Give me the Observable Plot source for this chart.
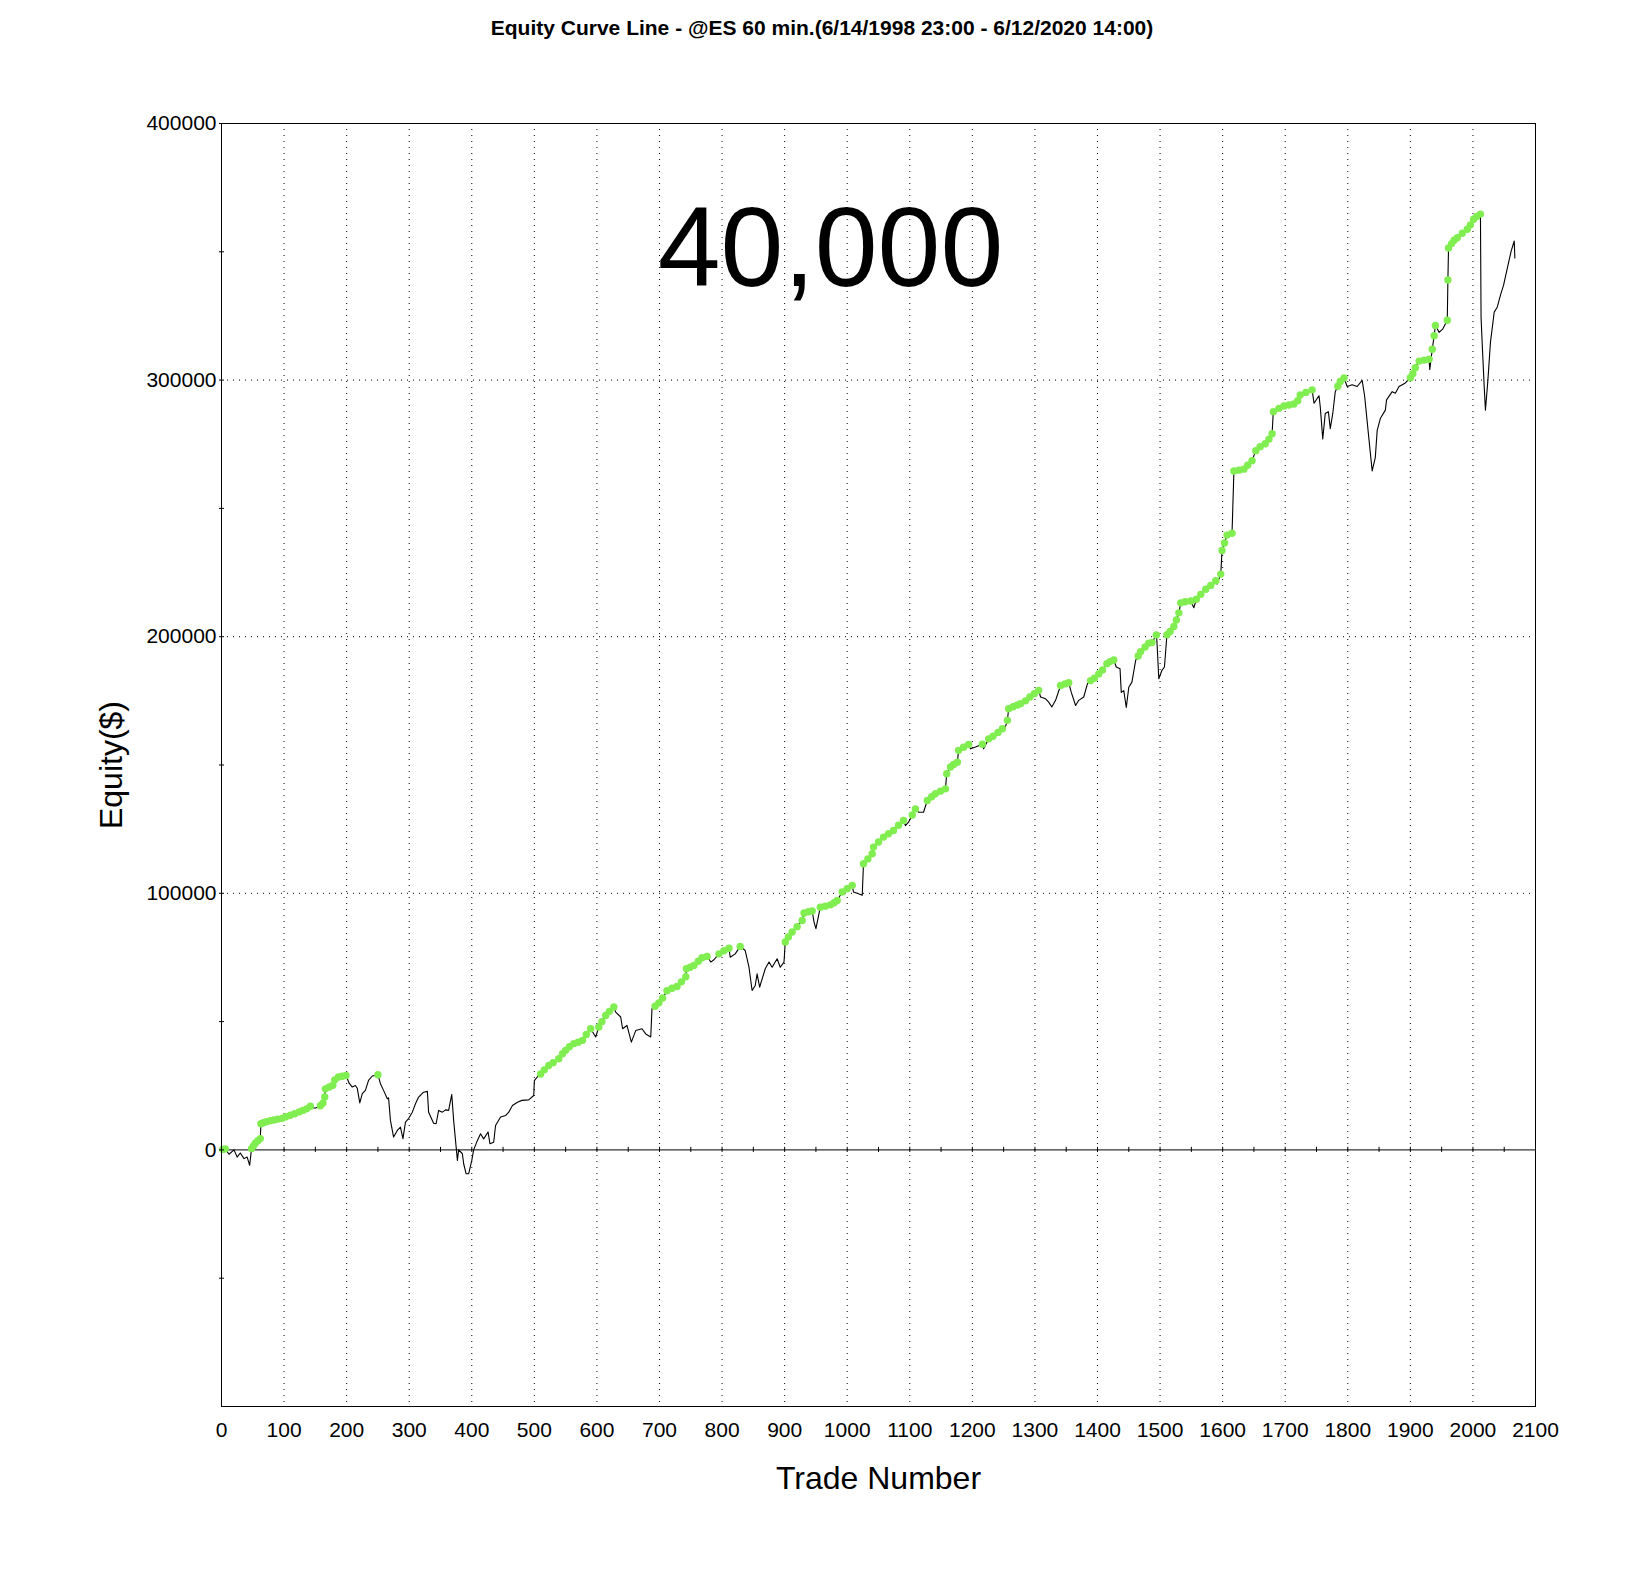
<!DOCTYPE html>
<html><head><meta charset="utf-8">
<script src="https://cdn.jsdelivr.net/npm/d3@7"></script>
<script src="https://cdn.jsdelivr.net/npm/@observablehq/plot@0.6"></script>
<style>
body{margin:0;background:#fff;}
#title{width:1644px;height:56px;font:bold 21px "Liberation Sans",Arial,sans-serif;line-height:56px;text-align:center;color:#000;}
</style></head><body>
<div id="title">Equity Curve Line - @ES 60 min.(6/14/1998 23:00 - 6/12/2020 14:00)</div>
<div id="chart"></div>
<script>
// [trade number, equity $]
const equityPoints = [
[2,200],[6,400],[12,-1700],[20,0],[25,-2800],[30,-1200],[36,-3400],[41,-2800],[45,-6000],[48,500],[51,1500],[54,2600],[58,3600],[62,4400],[63,10200],[67,10600],[72,11000],[78,11400],[84,11700],[90,12000],[97,12300],[103,12900],[110,13500],[117,14100],[124,14800],[130,15400],[136,16000],[142,17000],[147,16300],[150,16300],[154,16600],[158,17200],[162,18200],[165,20600],[166,23800],[172,24500],[178,25200],[181,27300],[187,28400],[193,28700],[199,29000],[204,26000],[209,24500],[214,25100],[217,24000],[221,18300],[225,21900],[230,23200],[235,27100],[241,28800],[250,29300],[254,25800],[259,23200],[265,19900],[267,20300],[270,11500],[275,5000],[281,7600],[286,8900],[290,4400],[294,10800],[299,12200],[305,14700],[310,18000],[315,20600],[323,22500],[329,22800],[331,14700],[339,10400],[343,10200],[347,15400],[353,14700],[358,15600],[363,15400],[368,21600],[371,11500],[375,1100],[377,-4100],[379,0],[385,-1500],[387,-5400],[391,-9300],[395,-9300],[400,-4100],[403,0],[409,3700],[414,6300],[419,4300],[426,7000],[429,2400],[435,3000],[438,9500],[446,12800],[454,13400],[459,14700],[465,17300],[473,18600],[480,19300],[491,19500],[499,21200],[500,27000],[505,28500],[510,29600],
[516,31200],[523,32900],[530,34000],[539,35500],[545,37500],[550,38800],[556,40200],[563,41400],[570,42000],[577,42700],[583,45000],[590,47200],[598,44000],[603,47900],[608,50000],[614,52400],[620,54000],[627,55700],[630,53700],[638,51800],[641,47200],[648,48500],[655,42000],[662,46500],[672,47200],[678,45200],[686,44000],[688,55000],[693,56000],[699,57300],[705,59200],[712,62000],[720,63000],[728,63700],[735,65500],[742,67500],[743,70600],[749,71200],[755,71900],[762,73500],[768,74900],[776,75400],[782,73200],[787,74100],[795,76400],[803,77600],[811,78600],[813,75100],[821,76400],[829,79300],[837,77700],[843,71200],[848,62100],[853,64100],[856,68600],[860,63400],[869,70600],[875,73200],[880,71200],[888,74500],[893,71200],[899,73200],[901,81000],[906,83000],[912,84900],[920,87000],[928,89400],[931,92300],[938,92800],[944,93100],[947,88800],[950,86200],[957,94600],[965,95000],[973,95500],[979,96300],[984,97200],[992,100500],[1000,101800],[1008,103100],[1010,100500],[1018,99800],[1024,99200],
[1026,111500],[1033,113400],[1040,115400],[1042,118000],[1050,120000],[1058,121900],[1066,123200],[1074,124500],[1082,126500],[1090,128400],[1093,126400],[1098,127700],[1104,130500],[1109,132900],[1114,131600],[1122,131600],[1128,136200],[1135,137600],[1141,138800],[1149,139800],[1157,140700],[1159,146600],[1165,149200],[1170,150200],[1176,151100],[1178,155700],[1186,156900],[1194,158000],[1197,156300],[1205,157000],[1216,158100],[1218,156300],[1226,160200],[1233,161200],[1241,162700],[1248,164100],[1251,163500],[1256,167400],[1258,171900],[1265,172700],[1272,173400],[1277,173900],[1285,175000],[1292,176500],[1299,177800],[1306,179100],[1309,176500],[1317,175800],[1322,174500],[1327,172600],[1333,175200],[1341,181000],[1348,181600],[1354,182100],[1358,178400],[1365,173200],[1370,175200],[1378,176500],[1384,181700],[1389,182900],[1395,183800],[1402,185500],[1408,187000],[1415,189500],[1420,190300],[1426,190900],[1430,188200],[1436,187500],[1438,178300],[1442,179000],[1446,172400],[1450,180300],[1455,182300],[1461,190800],[1465,192500],[1469,194200],[1476,196000],[1482,197500],[1487,197700],[1494,200700],[1495,198000],[1498,183600],[1503,186900],[1507,188200],[1511,200800],[1516,202000],[1522,204000],[1526,206500],[1530,209300],[1533,213200],[1540,213600],[1549,213900],[1554,211300],[1558,214600],[1565,216500],[1573,218500],[1581,220000],[1589,221800],[1591,220500],[1597,224400],[1599,233600],[1603,236500],[1607,239600],[1615,240300],
[1618,264600],[1626,264900],[1634,265300],[1640,266800],[1647,268600],[1653,272500],[1660,274000],[1668,275200],[1674,277000],[1679,279100],[1681,287700],[1690,289000],[1698,289900],[1706,290300],[1714,290700],[1720,292000],[1724,294200],[1733,295200],[1743,296200],[1746,291000],[1754,293900],[1756,289600],[1760,277100],[1764,287000],[1769,287700],[1772,281100],[1776,287000],[1780,295500],[1784,297600],[1788,299500],[1794,300800],[1799,297500],[1807,298200],[1815,297500],[1823,299900],[1827,293600],[1834,276500],[1839,264600],[1844,269900],[1847,280400],[1852,285000],[1860,288300],[1862,292300],[1871,295500],[1876,294900],[1882,297500],[1892,298900],[1900,300900],[1904,302500],[1908,304800],[1914,307400],[1922,307800],[1930,308100],[1931,304100],[1935,312000],[1938,317300],[1940,321300],[1946,318600],[1952,320000],[1959,323300],[1960,339000],[1961,351500],[1966,353200],[1970,354500],[1975,355500],[1983,357200],[1991,358800],[1996,360500],[2001,362700],[2006,363800],[2012,364700],[2013,324500],[2015,313300],[2018,297500],[2020,288300],[2024,300200],[2028,314700],[2034,326500],[2039,328500],[2044,333100],[2049,337000],[2055,343600],[2061,350200],[2066,354200],[2067,347600]
];
const xTicks = [0,100,200,300,400,500,600,700,800,900,1000,1100,1200,1300,1400,1500,1600,1700,1800,1900,2000,2100];
const xGrid = [100,200,300,400,500,600,700,800,900,1000,1100,1200,1300,1400,1500,1600,1700,1800,1900,2000];
const yTicks = [0,100000,200000,300000,400000];
const yMinorTicks = [-50000,50000,150000,250000,350000];
const yGrid = [100000,200000,300000];
const zeroLineTicks = d3.range(50, 2100, 50);

const rows = equityPoints.map(([trade, equity]) => ({trade, equity}));
// green dots: trades closing at a new equity high
let runMax = -Infinity;
const highs = rows.filter(d => { if (d.equity >= runMax) { runMax = d.equity; return true; } return false; });

const font = '"Liberation Sans", Arial, sans-serif';
const chart = Plot.plot({
  width: 1644, height: 1528,
  marginLeft: 221, marginRight: 109, marginTop: 67, marginBottom: 178,
  style: {fontFamily: font, fontSize: "21px", color: "#000", background: "#fff", overflow: "visible"},
  x: {domain: [0, 2100]},
  y: {domain: [-100000, 400000]},
  marks: [
    Plot.ruleX(xGrid, {stroke: "#000", strokeDasharray: "1,5", strokeWidth: 1}),
    Plot.ruleY(yGrid, {stroke: "#000", strokeDasharray: "1,5", strokeWidth: 1}),
    Plot.ruleY([0], {stroke: "#000", strokeWidth: 1}),
    Plot.ruleX(zeroLineTicks, {x: d => d, y1: -1000, y2: 1000, stroke: "#000", strokeWidth: 1}),
    Plot.line(rows, {x: "trade", y: "equity", stroke: "#000", strokeWidth: 1.1}),
    Plot.dot(highs, {x: "trade", y: "equity", r: 3.7, fill: "#80ee50", stroke: "none"}),
    Plot.frame({stroke: "#000", strokeWidth: 1}),
    Plot.axisX({ticks: xTicks, tickSize: 0, tickPadding: 16, tickFormat: d => String(d), label: null}),
    Plot.axisY({ticks: yTicks, tickSize: 5, tickPadding: 3, dx: 3, tickFormat: d => String(d), label: null}),
    Plot.axisY({ticks: yMinorTicks, tickSize: 5, dx: 3, tickFormat: () => "", label: null}),
    Plot.text(["Equity($)"], {text: d => d, frameAnchor: "left", rotate: -90, dx: -110, fontSize: 32, textAnchor: "middle", lineAnchor: "middle"}),
    Plot.text(["Trade Number"], {text: d => d, frameAnchor: "bottom", dy: 72, dx: 0, fontSize: 32, lineAnchor: "middle"}),
    Plot.text(["40,000"], {text: d => d, frameAnchor: "top", lineAnchor: "bottom", dy: 162, dx: -48, fontSize: 113})
  ]
});
document.getElementById("chart").appendChild(chart);
</script>
</body></html>
